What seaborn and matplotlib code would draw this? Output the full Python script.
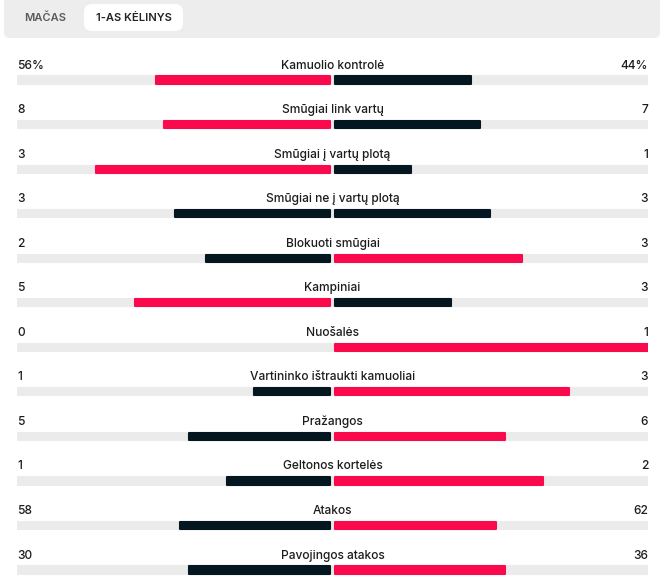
import matplotlib
matplotlib.use("Agg")
import matplotlib.pyplot as plt
from matplotlib.patches import FancyBboxPatch
import seaborn as sns
import pandas as pd
import numpy as np

categories = ["Kamuolio kontrolė", "Smūgiai link vartų", "Smūgiai į vartų plotą",
              "Smūgiai ne į vartų plotą", "Blokuoti smūgiai", "Kampiniai", "Nuošalės",
              "Vartininko ištraukti kamuoliai", "Pražangos", "Geltonos kortelės",
              "Atakos", "Pavojingos atakos"]
home_values = [56, 8, 3, 3, 2, 5, 0, 1, 5, 1, 58, 30]
away_values = [44, 7, 1, 3, 3, 3, 1, 3, 6, 2, 62, 36]
home_labels = ["56%", "8", "3", "3", "2", "5", "0", "1", "5", "1", "58", "30"]
away_labels = ["44%", "7", "1", "3", "3", "3", "1", "3", "6", "2", "62", "36"]
tabs = ["MAČAS", "1-AS KĖLINYS"]

RED = "#fa0a4c"
DARK = "#04161f"
TRACK = "#ebebeb"
TEXT = "#1c1c1c"

sns.set_theme(style="white")
plt.rcParams["font.family"] = ["Inter", "DejaVu Sans"]

W, H = 662, 585
fig = plt.figure(figsize=(W / 100, H / 100), dpi=100)
fig.patch.set_facecolor("white")

# ---- top tab bar (overlay axes in pixel coordinates)
top = fig.add_axes([0, 0, 1, 1])
top.set_xlim(0, W)
top.set_ylim(H, 0)
top.axis("off")
top.add_patch(FancyBboxPatch((4, -10), 656, 48, boxstyle="round,pad=0,rounding_size=6",
                             fc="#ededed", ec="none"))
top.add_patch(FancyBboxPatch((84, 4), 99, 27, boxstyle="round,pad=0,rounding_size=8",
                             fc="white", ec="none"))
top.text(45, 18, tabs[0], ha="center", va="center", fontsize=8.0, color="#5a5a5a",
         fontweight="semibold")
top.text(133.5, 18, tabs[1], ha="center", va="center", fontsize=8.0, color="#222222",
         fontweight="semibold")

# ---- stats axes
x0, x1 = 17, 648
ax = fig.add_axes([x0 / W, 0, (x1 - x0) / W, 1])
ax.set_facecolor("none")

n = len(categories)
tot = np.array(home_values, float) + np.array(away_values, float)
home_share = np.array(home_values) / tot
away_share = np.array(away_values) / tot

gap = 2.2 / ((x1 - x0) / 2)
home_cols = []
away_cols = []
for h, a in zip(home_values, away_values):
    if h > a:
        home_cols.append(RED); away_cols.append(DARK)
    elif a > h:
        home_cols.append(DARK); away_cols.append(RED)
    else:
        home_cols.append(DARK); away_cols.append(DARK)

df = pd.DataFrame({"cat": categories, "home": -home_share, "away": away_share})
bh = 0.16

# tracks
ax.barh(np.arange(n), [2.0] * n, left=-1.0, height=bh, color=TRACK,
        edgecolor=TRACK, linewidth=1.5, joinstyle="round")

sns.barplot(data=df, y="cat", x="home", hue="cat", palette=home_cols, orient="h",
            width=bh, legend=False, ax=ax, dodge=False, saturation=1)
sns.barplot(data=df, y="cat", x="away", hue="cat", palette=away_cols, orient="h",
            width=bh, legend=False, ax=ax, dodge=False, saturation=1)

for p in ax.patches[n:]:
    fc = p.get_facecolor()
    w = p.get_width()
    if w < 0:
        p.set_x(-gap)
        p.set_width(min(0, w + gap))
    elif w > 0:
        p.set_x(gap)
        p.set_width(max(0, w - gap))
    if abs(w) < 1e-9:
        p.set_visible(False)
        continue
    p.set_edgecolor(fc)
    p.set_linewidth(1.5)
    p.set_joinstyle("round")

row0 = 80
step = 44.55
ax.set_ylim((H - row0) / step, -row0 / step)
ax.set_xlim(-1, 1)
ax.axis("off")

off = 14.5 / step
for i in range(n):
    ax.text(0, i - off, categories[i], ha="center", va="center", fontsize=8.6,
            color=TEXT, fontweight="medium")
    ax.text(-1, i - off, home_labels[i], ha="left", va="center", fontsize=8.6,
            color=TEXT, fontweight="medium")
    ax.text(1, i - off, away_labels[i], ha="right", va="center", fontsize=8.6,
            color=TEXT, fontweight="medium")

fig.savefig("out.png", dpi=100, facecolor="white")
